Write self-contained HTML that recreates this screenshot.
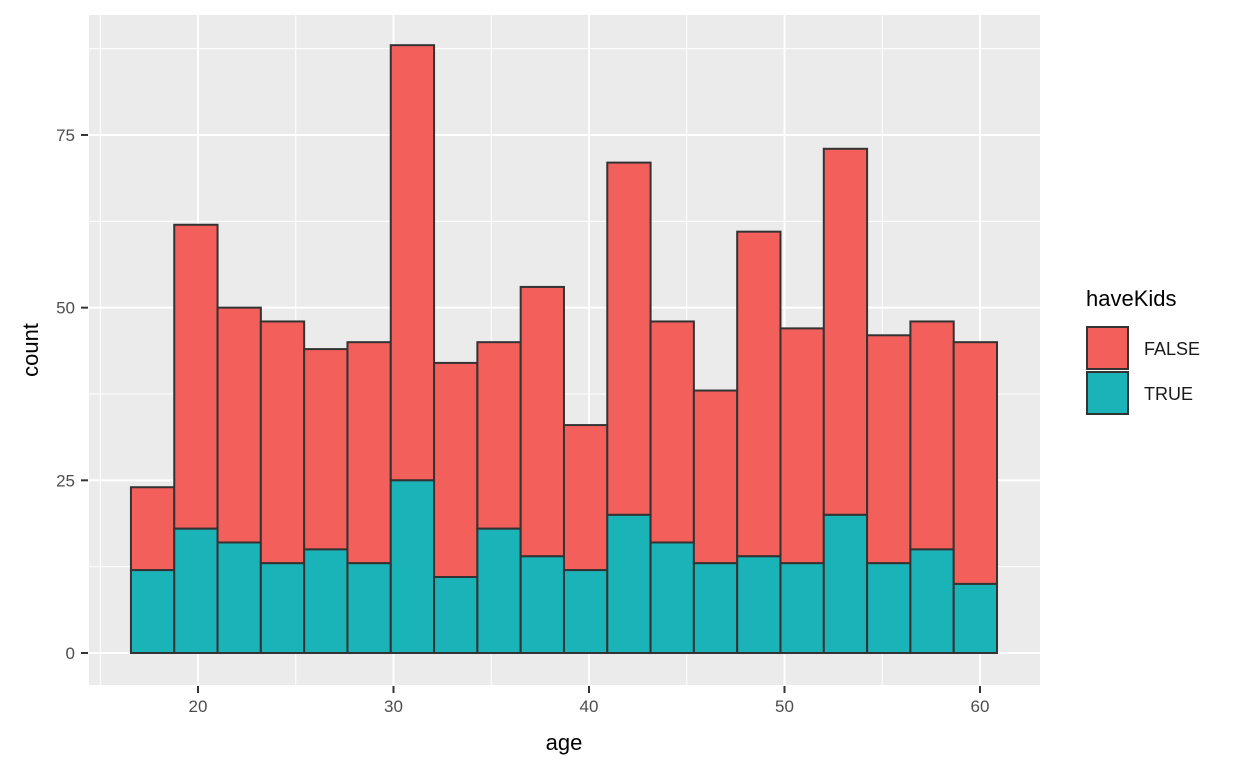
<!DOCTYPE html>
<html><head><meta charset="utf-8"><style>
body{margin:0;background:#fff;font-family:"Liberation Sans",Arial,sans-serif}
</style></head><body>
<svg id="chart" width="1248" height="768" xmlns="http://www.w3.org/2000/svg" font-family="Liberation Sans, Arial, sans-serif">
<rect x="89" y="15" width="951" height="670" fill="#EBEBEB"/>
<g id="grid"></g><g id="bars"></g><g id="axes"></g>
<text x="564" y="750" font-size="22" text-anchor="middle">age</text>
<text transform="translate(38,350) rotate(-90)" font-size="22" text-anchor="middle">count</text>
<g>
<text x="1086" y="306" font-size="22">haveKids</text>
<rect x="1087" y="327" width="41" height="42" fill="#F35F5A" stroke="#333" stroke-width="2"/>
<rect x="1087" y="372" width="41" height="42" fill="#1AB3B8" stroke="#333" stroke-width="2"/>
<text x="1144" y="355" font-size="18" fill="#1a1a1a">FALSE</text>
<text x="1144" y="400" font-size="18" fill="#1a1a1a">TRUE</text>
</g>
</svg>
<script>
const binStart = 16.57;
const binWidth = 2.215;
const totals = [24,62,50,48,44,45,88,42,45,53,33,71,48,38,61,47,73,46,48,45];
const trueCounts = [12,18,16,13,15,13,25,11,18,14,12,20,16,13,14,13,20,13,15,10];
const xTicks = [20,30,40,50,60];
const xMinor = [15,25,35,45,55];
const yTicks = [0,25,50,75];
const yMinor = [12.5,37.5,62.5,87.5];
const NS="http://www.w3.org/2000/svg";
const x = v => 198 + (v-20)*19.55;
const y = v => 653 - v*6.907;
const L=89,R=1040,T=15,B=685;
function mk(parent,tag,attrs){const e=document.createElementNS(NS,tag);for(const k in attrs)e.setAttribute(k,attrs[k]);document.getElementById(parent).appendChild(e);return e;}
yMinor.forEach(v=>{const e=mk('grid','line',{x1:L,x2:R,y1:y(v),y2:y(v),stroke:'#fff','stroke-width':1});

});
xMinor.forEach(v=>{const e=mk('grid','line',{x1:x(v),x2:x(v),y1:T,y2:B,stroke:'#fff','stroke-width':1});

});
yTicks.forEach(v=>{const e=mk('grid','line',{x1:L,x2:R,y1:y(v),y2:y(v),stroke:'#fff','stroke-width':2});


const t=mk('axes','line',{x1:81,x2:88,y1:y(v),y2:y(v),stroke:'#333','stroke-width':2});


const l=mk('axes','text',{x:75,y:y(v)+6,'font-size':17,fill:'#4D4D4D','text-anchor':'end'});l.textContent=v;

});
xTicks.forEach(v=>{const e=mk('grid','line',{x1:x(v),x2:x(v),y1:T,y2:B,stroke:'#fff','stroke-width':2});


const t=mk('axes','line',{x1:x(v),x2:x(v),y1:686,y2:693,stroke:'#333','stroke-width':2});


const l=mk('axes','text',{x:x(v),y:712,'font-size':17,fill:'#4D4D4D','text-anchor':'middle'});l.textContent=v;

});
totals.forEach((tot,i)=>{const x0=x(binStart+i*binWidth),x1=x(binStart+(i+1)*binWidth),tc=trueCounts[i];
const f=mk('bars','rect',{x:x0,y:y(tot),width:x1-x0,height:y(tc)-y(tot),fill:'#F35F5A',stroke:'#333','stroke-width':2});


const t=mk('bars','rect',{x:x0,y:y(tc),width:x1-x0,height:y(0)-y(tc),fill:'#1AB3B8',stroke:'#333','stroke-width':2});

});
</script>
</body></html>
